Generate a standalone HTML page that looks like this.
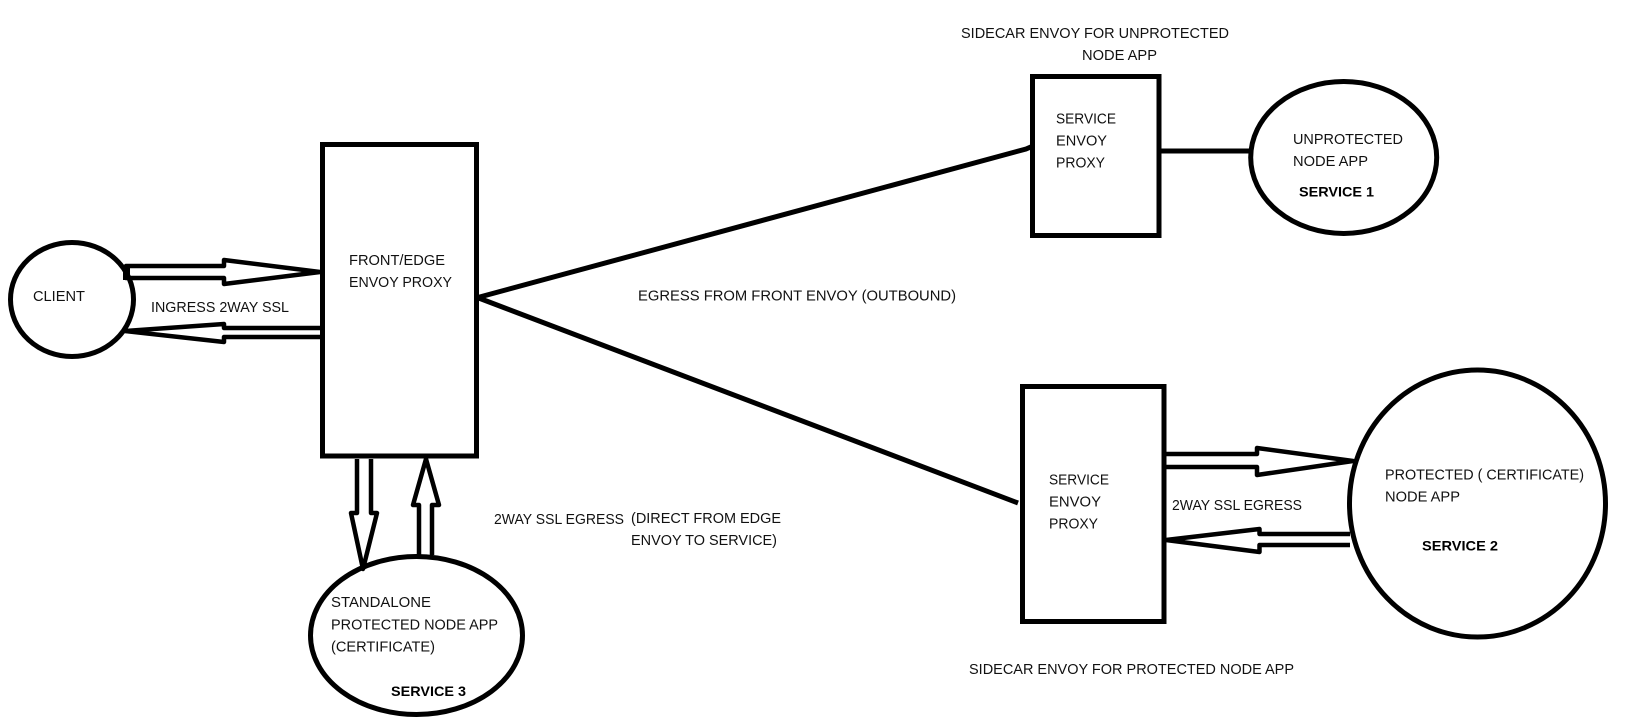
<!DOCTYPE html>
<html>
<head>
<meta charset="utf-8">
<style>
html,body{margin:0;padding:0;background:#fff;width:1626px;height:725px;overflow:hidden}
svg{display:block}
text{font-family:"Liberation Sans",sans-serif;font-size:14.5px;fill:#111}
text.b{font-weight:bold;font-size:14px;fill:#000}
.s{fill:none;stroke:#000;stroke-width:5}
.a{fill:none;stroke:#000;stroke-width:4.5;stroke-linejoin:round}
</style>
</head>
<body>
<svg width="1626" height="725" viewBox="0 0 1626 725" xmlns="http://www.w3.org/2000/svg">
<rect width="1626" height="725" fill="#fff"/>

<!-- shapes -->
<ellipse class="s" cx="72" cy="299.5" rx="61.5" ry="57"/>
<rect class="s" x="322.5" y="144.5" width="154" height="311.5"/>
<ellipse class="s" cx="416.5" cy="635.5" rx="106" ry="79"/>
<rect class="s" x="1032.5" y="76.5" width="126.5" height="159"/>
<ellipse class="s" cx="1343.7" cy="157.5" rx="93" ry="76"/>
<rect class="s" x="1022.5" y="386.5" width="141.5" height="235"/>
<ellipse class="s" cx="1477.5" cy="503.5" rx="128" ry="133.5"/>

<!-- connectors -->
<path class="s" d="M476 298 L1026 149 L1033 146"/>
<path class="s" d="M476 297 L1018 503" stroke-width="4.5"/>
<path class="s" d="M1158 151 H1249"/>

<!-- client arrows -->
<path class="a" d="M126 266 H224 V260 L320 272 L224 284 V278 H126 Z"/>
<rect x="123" y="266" width="7" height="14" fill="#000"/>
<path class="a" d="M321 328 H224 V324 L125 331 L224 342 V337 H321"/>

<!-- service 3 arrows -->
<path class="a" d="M357 459 V513 H351 L363 569 L377 513 H371 V459"/>
<path class="a" d="M419 555 V505 H413 L426 459 L439 505 H432 V555"/>

<!-- service 2 arrows -->
<path class="a" d="M1165 454 H1257 V448 L1353 461 L1257 475 V467 H1165"/>
<path class="a" d="M1350 534 H1259.5 V529 L1166 540 L1259.5 552 V545 H1350"/>

<!-- labels -->
<text x="33" y="301" textLength="52" lengthAdjust="spacingAndGlyphs">CLIENT</text>
<text x="151" y="312" textLength="138" lengthAdjust="spacingAndGlyphs">INGRESS 2WAY SSL</text>
<text x="349" y="265" textLength="96" lengthAdjust="spacingAndGlyphs">FRONT/EDGE</text>
<text x="349" y="287" textLength="103" lengthAdjust="spacingAndGlyphs">ENVOY PROXY</text>
<text x="331" y="607" textLength="100" lengthAdjust="spacingAndGlyphs">STANDALONE</text>
<text x="331" y="629.5" textLength="167" lengthAdjust="spacingAndGlyphs">PROTECTED NODE APP</text>
<text x="331" y="651.5" textLength="104" lengthAdjust="spacingAndGlyphs">(CERTIFICATE)</text>
<text class="b" x="391" y="696" textLength="75" lengthAdjust="spacingAndGlyphs">SERVICE 3</text>
<text x="494" y="524" textLength="130" lengthAdjust="spacingAndGlyphs">2WAY SSL EGRESS</text>
<text x="631" y="523" textLength="150" lengthAdjust="spacingAndGlyphs">(DIRECT FROM EDGE</text>
<text x="631" y="545" textLength="146" lengthAdjust="spacingAndGlyphs">ENVOY TO SERVICE)</text>
<text x="638" y="300.5" textLength="318" lengthAdjust="spacingAndGlyphs">EGRESS FROM FRONT ENVOY (OUTBOUND)</text>
<text x="961" y="38" textLength="268" lengthAdjust="spacingAndGlyphs">SIDECAR ENVOY FOR UNPROTECTED</text>
<text x="1082" y="60" textLength="75" lengthAdjust="spacingAndGlyphs">NODE APP</text>
<text x="1056" y="123.5" textLength="60" lengthAdjust="spacingAndGlyphs">SERVICE</text>
<text x="1056" y="145.5" textLength="51" lengthAdjust="spacingAndGlyphs">ENVOY</text>
<text x="1056" y="167.5" textLength="49" lengthAdjust="spacingAndGlyphs">PROXY</text>
<text x="1293" y="144" textLength="110" lengthAdjust="spacingAndGlyphs">UNPROTECTED</text>
<text x="1293" y="166" textLength="75" lengthAdjust="spacingAndGlyphs">NODE APP</text>
<text class="b" x="1299" y="196.5" textLength="75" lengthAdjust="spacingAndGlyphs">SERVICE 1</text>
<text x="1049" y="484.5" textLength="60" lengthAdjust="spacingAndGlyphs">SERVICE</text>
<text x="1049" y="506.5" textLength="52" lengthAdjust="spacingAndGlyphs">ENVOY</text>
<text x="1049" y="528.5" textLength="49" lengthAdjust="spacingAndGlyphs">PROXY</text>
<text x="1172" y="510" textLength="130" lengthAdjust="spacingAndGlyphs">2WAY SSL EGRESS</text>
<text x="1385" y="479.5" textLength="199" lengthAdjust="spacingAndGlyphs">PROTECTED ( CERTIFICATE)</text>
<text x="1385" y="501.5" textLength="75" lengthAdjust="spacingAndGlyphs">NODE APP</text>
<text class="b" x="1422" y="550.5" textLength="76" lengthAdjust="spacingAndGlyphs">SERVICE 2</text>
<text x="969" y="674" textLength="325" lengthAdjust="spacingAndGlyphs">SIDECAR ENVOY FOR PROTECTED NODE APP</text>
</svg>
</body>
</html>
